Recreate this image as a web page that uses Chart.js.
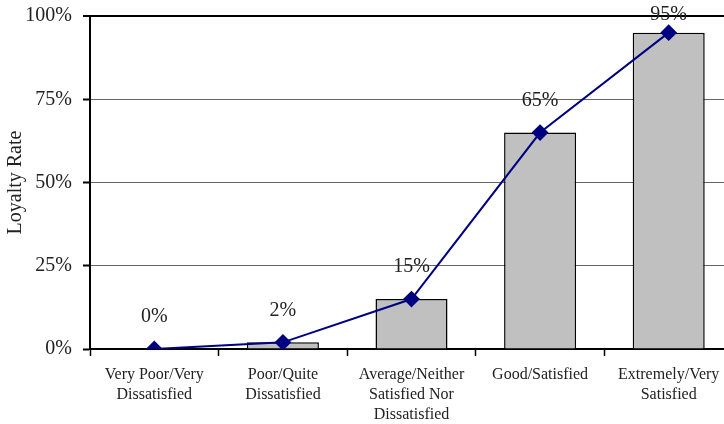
<!DOCTYPE html>
<html><head><meta charset="utf-8">
<script src="https://cdn.jsdelivr.net/npm/chart.js@4/dist/chart.umd.min.js"></script>
<style>
html,body{margin:0;padding:0;background:#fff;overflow:hidden;}
#wrap{width:724px;height:424px;overflow:hidden;position:relative;}
#box{width:742px;height:424px;position:absolute;left:0;top:0;}
</style></head>
<body><div id="wrap"><div id="box"><canvas id="c" width="742" height="424"></canvas></div></div>
<script>
const categories = [
  ["Very Poor/Very","Dissatisfied"],
  ["Poor/Quite","Dissatisfied"],
  ["Average/Neither","Satisfied Nor","Dissatisfied"],
  ["Good/Satisfied"],
  ["Extremely/Very","Satisfied"]
];
const barValues = [0, 2, 15, 65, 95];
const lineValues = [0, 2, 15, 65, 95];
const yTicks = [0, 25, 50, 75, 100];
const serif = "'Liberation Serif','Times New Roman',serif";

const labelPlugin = {
  id: 'pctLabels',
  afterDatasetsDraw(chart) {
    const ctx = chart.ctx;
    const meta = chart.getDatasetMeta(0);
    ctx.save();
    ctx.font = "20px " + serif;
    ctx.fillStyle = "#222";
    ctx.textAlign = "center";
    ctx.textBaseline = "middle";
    meta.data.forEach((pt, i) => {
      ctx.fillText(lineValues[i] + "%", pt.x, Math.max(15, pt.y - 32));
    });
    ctx.restore();
  }
};

new Chart(document.getElementById('c'), {
  type: 'bar',
  data: {
    labels: categories,
    datasets: [
      {
        type: 'line',
        data: lineValues,
        borderColor: '#000080',
        backgroundColor: '#000080',
        borderWidth: 2,
        pointStyle: 'rectRot',
        pointRadius: 7,
        pointHoverRadius: 7,
        pointBackgroundColor: '#000080',
        pointBorderColor: '#000080',
        tension: 0,
        order: 0
      },
      {
        type: 'bar',
        data: barValues,
        backgroundColor: '#C0C0C0',
        borderColor: '#000000',
        borderWidth: 1.5,
        barPercentage: 0.56,
        categoryPercentage: 1,
        order: 1
      }
    ]
  },
  options: {
    responsive: false,
    animation: false,
    events: [],
    layout: { padding: { top: 16, right: 1, bottom: 0, left: 0 } },
    plugins: { legend: { display: false }, tooltip: { enabled: false } },
    scales: {
      x: {
        offset: true,
        grid: { offset: true, drawOnChartArea: false, drawTicks: true, tickLength: 7, tickColor: '#000', tickWidth: 1.5 },
        border: { color: '#000', width: 2 },
        ticks: { font: { family: serif, size: 16, lineHeight: 1.25 }, color: '#222', padding: 9, maxRotation: 0, autoSkip: false },
        afterFit(s) { s.height = 75; s.paddingLeft = 0; s.paddingRight = 0; }
      },
      y: {
        min: 0, max: 100,
        afterBuildTicks(s) { s.ticks = yTicks.map(v => ({ value: v })); },
        grid: {
          color: ctx => (ctx.tick && ctx.tick.value === 100) ? '#000' : (ctx.tick && ctx.tick.value === 0 ? 'rgba(0,0,0,0)' : '#666'),
          lineWidth: ctx => (ctx.tick && ctx.tick.value === 100) ? 2 : 1,
          tickColor: '#000', tickLength: 7, tickWidth: 2, drawTicks: true
        },
        border: { color: '#000', width: 2 },
        ticks: { font: { family: serif, size: 20 }, color: '#222', padding: 11, callback: v => v + '%' },
        title: { display: true, text: 'Loyalty Rate', font: { family: serif, size: 20 }, color: '#222', padding: { top: 4, bottom: 0 } },
        afterFit(s) { s.width = 90; s.paddingTop = 0; s.paddingBottom = 0; }
      }
    }
  },
  plugins: [labelPlugin]
});
</script></body></html>
